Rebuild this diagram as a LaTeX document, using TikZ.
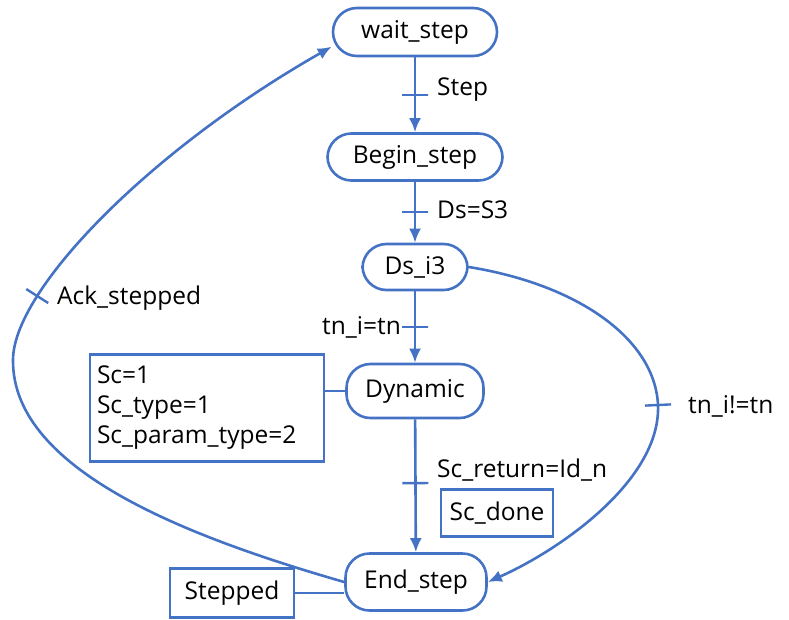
\documentclass[tikz,border=0pt]{standalone}
\usepackage{fontspec}
\setmainfont{Open Sans}
\usetikzlibrary{arrows.meta}
\definecolor{lineblue}{RGB}{68,114,196}
\tikzset{
  every node/.style={font=\fontsize{24.5}{30}\selectfont, text=black},
  state/.style={draw=lineblue, line width=2.6pt, rounded corners=24pt, fill=white, inner sep=0pt},
  infobox/.style={draw=lineblue, line width=2.4pt, fill=white, inner sep=6pt},
  conn/.style={draw=lineblue, line width=2.6pt, -{Latex[length=14pt,width=12pt]}},
  plain/.style={draw=lineblue, line width=2.6pt},
  tickmark/.style={draw=lineblue, line width=2.4pt, rectangle, minimum width=0pt, minimum height=26pt, inner sep=0pt},
  lbl/.style={inner sep=0pt}
}
\begin{document}
\begin{tikzpicture}[x=1pt, y=-1pt]
\useasboundingbox (0,0) rectangle (789,619);
\node[state, minimum width=164pt, minimum height=48pt] (wait) at (415,32) {wait\_step};
\node[state, minimum width=175pt, minimum height=47pt] (begin) at (415,157) {Begin\_step};
\node[state, minimum width=105pt, minimum height=46pt] (ds) at (415,267) {Ds\_i3};
\node[state, minimum width=137pt, minimum height=54pt] (dyn) at (415,391) {Dynamic};
\node[state, minimum width=141pt, minimum height=57pt] (end) at (416,582) {End\_step};
\node[infobox, align=left, minimum width=234pt, minimum height=107pt, text width=220pt] (sc) at (207,408) {Sc=1\\Sc\_type=1\\Sc\_param\_type=2};
\node[infobox, minimum width=112pt, minimum height=47pt, inner sep=0pt] (done) at (497,513) {Sc\_done};
\node[infobox, minimum width=124pt, minimum height=49pt, inner sep=0pt] (stepped) at (232,593) {Stepped};

\draw[conn] (wait) -- node[tickmark, sloped] {} (begin);
\node[lbl, anchor=west] (l1) at (437,90) {Step};
\draw[conn] (begin) -- node[tickmark, sloped] {} (ds);
\node[lbl, anchor=west] (l2) at (437,210) {Ds=S3};
\draw[conn] (ds) -- node[tickmark, sloped, pos=0.5] {} (dyn);
\node[lbl, anchor=east] (l3) at (401,327) {tn\_i=tn};
\draw[conn] (dyn) -- node[tickmark, sloped, pos=0.48] {} (end);
\node[lbl, anchor=west] (l4) at (437,470) {Sc\_return=Id\_n};

\draw[plain] (sc.east |- dyn.west) -- (dyn.west);
\draw[plain] (stepped.east) -- (stepped.east -| end.west);

\draw[conn] (ds.east) .. controls (580,285) and (655,340) .. (658,405) node[tickmark, sloped, pos=1] {}
   .. controls (661,480) and (560,550) .. (end.east);
\node[lbl, anchor=west] (l5) at (688,406) {tn\_i!=tn};

\draw[conn] (end.west) .. controls (195,539) and (12,472) .. (13,360)
   .. controls (13,290) and (150,150) .. node[tickmark, sloped, pos=0.25] {} (wait.190);
\node[lbl, anchor=west] (l6) at (57,298) {Ack\_stepped};
\end{tikzpicture}
\end{document}
